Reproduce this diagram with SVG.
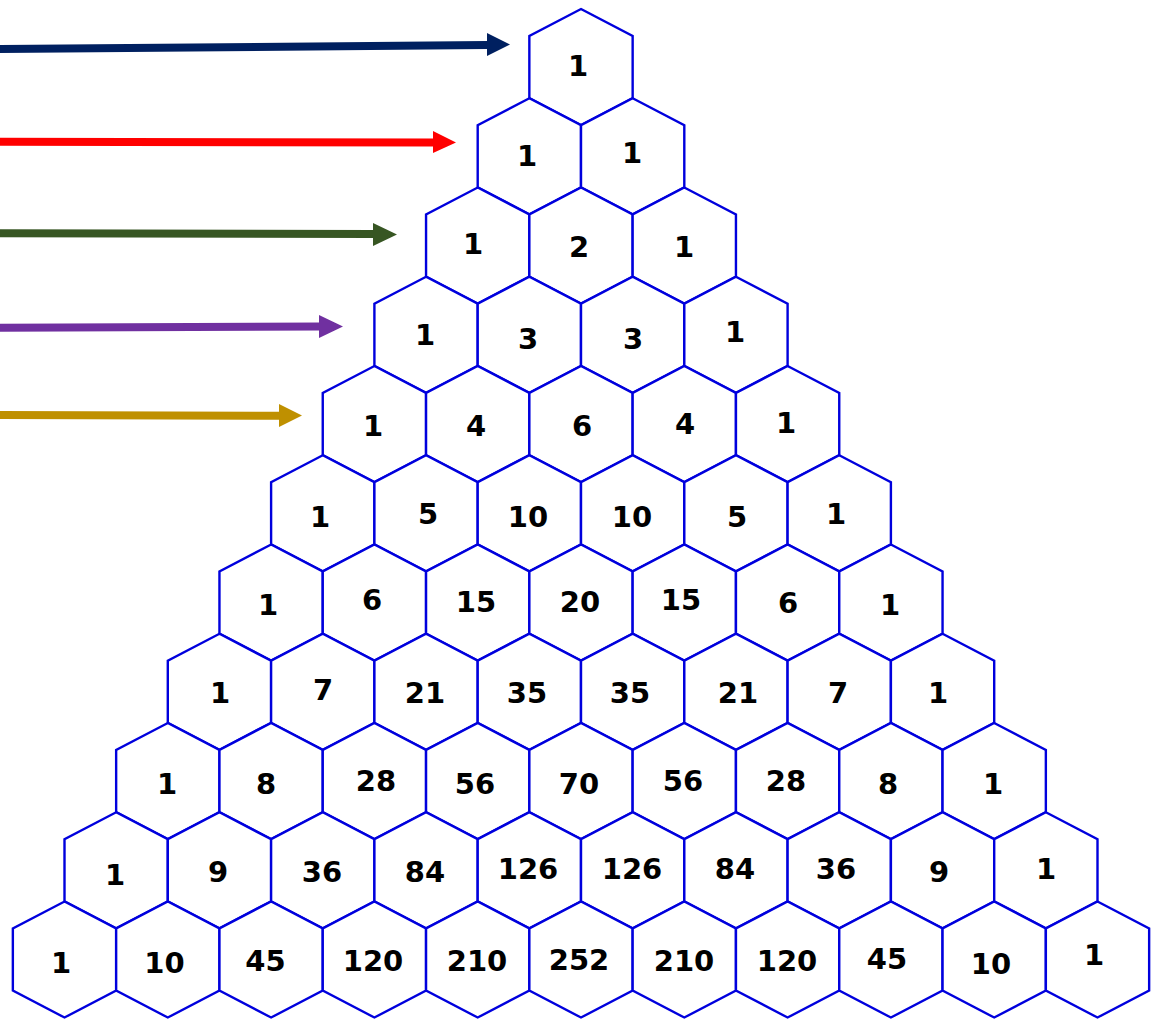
<svg xmlns="http://www.w3.org/2000/svg" xmlns:xlink="http://www.w3.org/1999/xlink" width="1153" height="1031" viewBox="0 0 1153 1031">
<style>
.hex{fill:#ffffff;stroke:#0000dd;stroke-width:2.4;stroke-linejoin:miter}
.num{font-family:"DejaVu Sans","Liberation Sans",sans-serif;font-weight:bold;font-size:29px;fill:#000000;text-anchor:middle}
</style>
<defs>
<polygon id="hex" class="hex" points="0,-58 51.65,-31 51.65,31 0,58 -51.65,31 -51.65,-31"/>
</defs>
<rect width="1153" height="1031" fill="#ffffff"/>
<g id="connectors">
<polygon fill="#002060" points="0,45 487,41 487,33 510,44.5 487,56 487,49 0,53"/>
<polygon fill="#ff0000" points="0,137.7 433,138.5 433,131 456,142.5 433,153 433,146.5 0,145.7"/>
<polygon fill="#375623" points="0,229.3 373,230 373,223 397,234.5 373,246 373,238 0,237.3"/>
<polygon fill="#7030a0" points="0,323.7 319,322.5 319,315 343,326.5 319,338 319,330.5 0,331.7"/>
<polygon fill="#bf9000" points="0,411 279,411.7 279,404 302,415.5 279,427 279,419.7 0,419"/>
</g>
<g id="r0"><g id="n0-0"><use href="#hex" x="581" y="67"/><text class="num" x="578" y="75.5">1</text></g></g>
<g id="r1">
<g id="n1-0"><use href="#hex" x="529.35" y="156.25"/><text class="num" x="527" y="165.5">1</text></g>
<g id="n1-1"><use href="#hex" x="632.65" y="156.25"/><text class="num" x="632" y="162.5">1</text></g>
</g>
<g id="r2">
<g id="n2-0"><use href="#hex" x="477.7" y="245.5"/><text class="num" x="473" y="253.5">1</text></g>
<g id="n2-1"><use href="#hex" x="581" y="245.5"/><text class="num" x="579" y="256.5">2</text></g>
<g id="n2-2"><use href="#hex" x="684.3" y="245.5"/><text class="num" x="684" y="256.5">1</text></g>
</g>
<g id="r3">
<g id="n3-0"><use href="#hex" x="426.05" y="334.75"/><text class="num" x="425" y="344.5">1</text></g>
<g id="n3-1"><use href="#hex" x="529.35" y="334.75"/><text class="num" x="528" y="348.5">3</text></g>
<g id="n3-2"><use href="#hex" x="632.65" y="334.75"/><text class="num" x="633" y="348.5">3</text></g>
<g id="n3-3"><use href="#hex" x="735.95" y="334.75"/><text class="num" x="735" y="341.5">1</text></g>
</g>
<g id="r4">
<g id="n4-0"><use href="#hex" x="374.4" y="424"/><text class="num" x="373" y="435.5">1</text></g>
<g id="n4-1"><use href="#hex" x="477.7" y="424"/><text class="num" x="476" y="435.5">4</text></g>
<g id="n4-2"><use href="#hex" x="581" y="424"/><text class="num" x="582" y="435.5">6</text></g>
<g id="n4-3"><use href="#hex" x="684.3" y="424"/><text class="num" x="685" y="433.5">4</text></g>
<g id="n4-4"><use href="#hex" x="787.6" y="424"/><text class="num" x="786" y="432.5">1</text></g>
</g>
<g id="r5">
<g id="n5-0"><use href="#hex" x="322.75" y="513.25"/><text class="num" x="320" y="526.5">1</text></g>
<g id="n5-1"><use href="#hex" x="426.05" y="513.25"/><text class="num" x="428" y="523.5">5</text></g>
<g id="n5-2"><use href="#hex" x="529.35" y="513.25"/><text class="num" x="528" y="526.5">10</text></g>
<g id="n5-3"><use href="#hex" x="632.65" y="513.25"/><text class="num" x="632" y="526.5">10</text></g>
<g id="n5-4"><use href="#hex" x="735.95" y="513.25"/><text class="num" x="737" y="526.5">5</text></g>
<g id="n5-5"><use href="#hex" x="839.25" y="513.25"/><text class="num" x="836" y="523.5">1</text></g>
</g>
<g id="r6">
<g id="n6-0"><use href="#hex" x="271.1" y="602.5"/><text class="num" x="268" y="614.5">1</text></g>
<g id="n6-1"><use href="#hex" x="374.4" y="602.5"/><text class="num" x="372" y="609.5">6</text></g>
<g id="n6-2"><use href="#hex" x="477.7" y="602.5"/><text class="num" x="476" y="611.5">15</text></g>
<g id="n6-3"><use href="#hex" x="581" y="602.5"/><text class="num" x="580" y="611.5">20</text></g>
<g id="n6-4"><use href="#hex" x="684.3" y="602.5"/><text class="num" x="681" y="609.5">15</text></g>
<g id="n6-5"><use href="#hex" x="787.6" y="602.5"/><text class="num" x="788" y="612.5">6</text></g>
<g id="n6-6"><use href="#hex" x="890.9" y="602.5"/><text class="num" x="890" y="614.5">1</text></g>
</g>
<g id="r7">
<g id="n7-0"><use href="#hex" x="219.45" y="691.75"/><text class="num" x="220" y="702.5">1</text></g>
<g id="n7-1"><use href="#hex" x="322.75" y="691.75"/><text class="num" x="323" y="699.5">7</text></g>
<g id="n7-2"><use href="#hex" x="426.05" y="691.75"/><text class="num" x="425" y="702.5">21</text></g>
<g id="n7-3"><use href="#hex" x="529.35" y="691.75"/><text class="num" x="527" y="702.5">35</text></g>
<g id="n7-4"><use href="#hex" x="632.65" y="691.75"/><text class="num" x="630" y="702.5">35</text></g>
<g id="n7-5"><use href="#hex" x="735.95" y="691.75"/><text class="num" x="738" y="702.5">21</text></g>
<g id="n7-6"><use href="#hex" x="839.25" y="691.75"/><text class="num" x="838" y="702.5">7</text></g>
<g id="n7-7"><use href="#hex" x="942.55" y="691.75"/><text class="num" x="938" y="702.5">1</text></g>
</g>
<g id="r8">
<g id="n8-0"><use href="#hex" x="167.8" y="781"/><text class="num" x="167" y="793.5">1</text></g>
<g id="n8-1"><use href="#hex" x="271.1" y="781"/><text class="num" x="266" y="793.5">8</text></g>
<g id="n8-2"><use href="#hex" x="374.4" y="781"/><text class="num" x="376" y="790.5">28</text></g>
<g id="n8-3"><use href="#hex" x="477.7" y="781"/><text class="num" x="475" y="793.5">56</text></g>
<g id="n8-4"><use href="#hex" x="581" y="781"/><text class="num" x="579" y="793.5">70</text></g>
<g id="n8-5"><use href="#hex" x="684.3" y="781"/><text class="num" x="683" y="790.5">56</text></g>
<g id="n8-6"><use href="#hex" x="787.6" y="781"/><text class="num" x="786" y="790.5">28</text></g>
<g id="n8-7"><use href="#hex" x="890.9" y="781"/><text class="num" x="888" y="793.5">8</text></g>
<g id="n8-8"><use href="#hex" x="994.2" y="781"/><text class="num" x="993" y="793.5">1</text></g>
</g>
<g id="r9">
<g id="n9-0"><use href="#hex" x="116.15" y="870.25"/><text class="num" x="115" y="884.5">1</text></g>
<g id="n9-1"><use href="#hex" x="219.45" y="870.25"/><text class="num" x="218" y="881.5">9</text></g>
<g id="n9-2"><use href="#hex" x="322.75" y="870.25"/><text class="num" x="322" y="881.5">36</text></g>
<g id="n9-3"><use href="#hex" x="426.05" y="870.25"/><text class="num" x="425" y="881.5">84</text></g>
<g id="n9-4"><use href="#hex" x="529.35" y="870.25"/><text class="num" x="528" y="878.5">126</text></g>
<g id="n9-5"><use href="#hex" x="632.65" y="870.25"/><text class="num" x="632" y="878.5">126</text></g>
<g id="n9-6"><use href="#hex" x="735.95" y="870.25"/><text class="num" x="735" y="878.5">84</text></g>
<g id="n9-7"><use href="#hex" x="839.25" y="870.25"/><text class="num" x="836" y="878.5">36</text></g>
<g id="n9-8"><use href="#hex" x="942.55" y="870.25"/><text class="num" x="939" y="881.5">9</text></g>
<g id="n9-9"><use href="#hex" x="1045.85" y="870.25"/><text class="num" x="1046" y="878.5">1</text></g>
</g>
<g id="r10">
<g id="n10-0"><use href="#hex" x="64.5" y="959.5"/><text class="num" x="61" y="973">1</text></g>
<g id="n10-1"><use href="#hex" x="167.8" y="959.5"/><text class="num" x="164.5" y="973">10</text></g>
<g id="n10-2"><use href="#hex" x="271.1" y="959.5"/><text class="num" x="265.5" y="971">45</text></g>
<g id="n10-3"><use href="#hex" x="374.4" y="959.5"/><text class="num" x="373" y="970.5">120</text></g>
<g id="n10-4"><use href="#hex" x="477.7" y="959.5"/><text class="num" x="477" y="970.5">210</text></g>
<g id="n10-5"><use href="#hex" x="581" y="959.5"/><text class="num" x="579" y="970">252</text></g>
<g id="n10-6"><use href="#hex" x="684.3" y="959.5"/><text class="num" x="684" y="970.5">210</text></g>
<g id="n10-7"><use href="#hex" x="787.6" y="959.5"/><text class="num" x="787" y="970.5">120</text></g>
<g id="n10-8"><use href="#hex" x="890.9" y="959.5"/><text class="num" x="887" y="968.5">45</text></g>
<g id="n10-9"><use href="#hex" x="994.2" y="959.5"/><text class="num" x="991" y="974">10</text></g>
<g id="n10-10"><use href="#hex" x="1097.5" y="959.5"/><text class="num" x="1094" y="965">1</text></g>
</g>
</svg>
